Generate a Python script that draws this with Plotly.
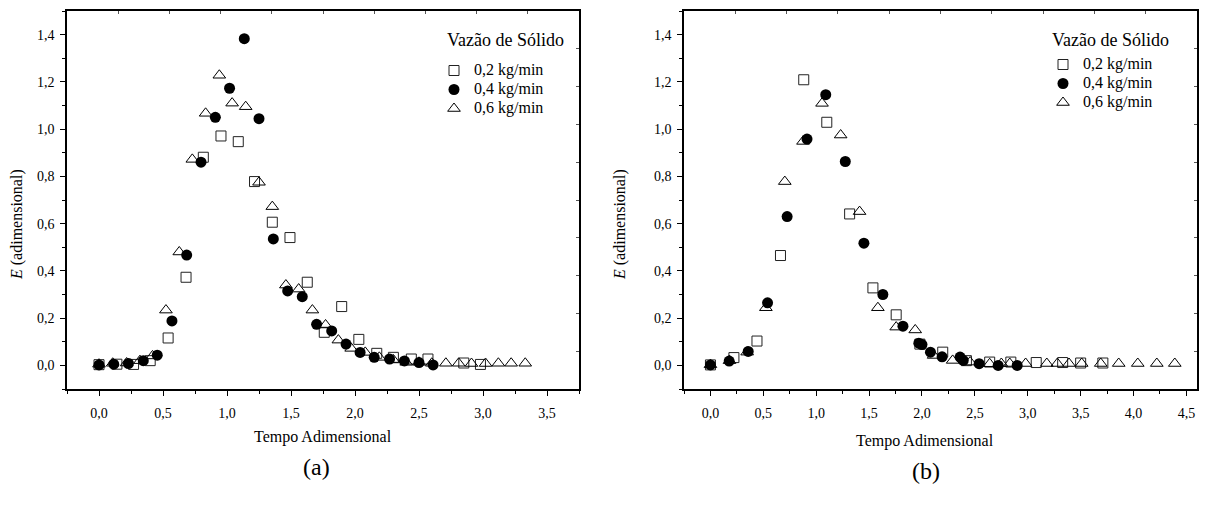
import plotly.graph_objects as go

# ---------------- Data: panel (a) ----------------
a_x_02 = [0.0, 0.14, 0.27, 0.40, 0.54, 0.68, 0.815, 0.953, 1.088, 1.215, 1.354, 1.492, 1.627, 1.76, 1.896, 2.03, 2.17, 2.30, 2.44, 2.57, 2.85, 2.98]
a_y_02 = [0.003, 0.005, 0.004, 0.02, 0.116, 0.373, 0.881, 0.971, 0.947, 0.778, 0.606, 0.541, 0.352, 0.140, 0.249, 0.11, 0.051, 0.034, 0.027, 0.027, 0.01, 0.004]

a_x_04 = [0.0, 0.115, 0.23, 0.346, 0.455, 0.57, 0.685, 0.797, 0.909, 1.02, 1.135, 1.25, 1.362, 1.474, 1.588, 1.70, 1.818, 1.93, 2.04, 2.15, 2.27, 2.386, 2.50, 2.61]
a_y_04 = [0.002, 0.005, 0.008, 0.02, 0.043, 0.188, 0.467, 0.86, 1.05, 1.173, 1.383, 1.044, 0.535, 0.315, 0.291, 0.174, 0.146, 0.09, 0.055, 0.034, 0.027, 0.019, 0.012, 0.002]

a_x_06 = [0.0, 0.107, 0.216, 0.32, 0.418, 0.523, 0.627, 0.729, 0.833, 0.94, 1.04, 1.146, 1.25, 1.354, 1.46, 1.56, 1.667, 1.77, 1.87, 1.97, 2.08, 2.19, 2.30, 2.40, 2.50, 2.60, 2.71, 2.81, 2.91, 3.02, 3.12, 3.22, 3.33]
a_y_06 = [0.005, 0.009, 0.01, 0.02, 0.04, 0.234, 0.48, 0.872, 1.067, 1.228, 1.11, 1.095, 0.775, 0.672, 0.340, 0.323, 0.234, 0.171, 0.107, 0.072, 0.055, 0.034, 0.023, 0.013, 0.013, 0.009, 0.009, 0.009, 0.008, 0.008, 0.009, 0.009, 0.009]

# ---------------- Data: panel (b) ----------------
b_x_02 = [0.0, 0.222, 0.44, 0.662, 0.882, 1.10, 1.316, 1.536, 1.756, 1.98, 2.196, 2.42, 2.64, 2.84, 3.08, 3.33, 3.50, 3.71]
b_y_02 = [0.002, 0.033, 0.103, 0.465, 1.209, 1.029, 0.641, 0.328, 0.214, 0.09, 0.056, 0.02, 0.014, 0.014, 0.012, 0.012, 0.01, 0.01]

b_x_04 = [0.0, 0.177, 0.357, 0.54, 0.725, 0.913, 1.09, 1.275, 1.451, 1.63, 1.82, 1.97, 2.0, 2.08, 2.19, 2.36, 2.39, 2.54, 2.72, 2.90]
b_y_04 = [0.002, 0.018, 0.059, 0.265, 0.63, 0.958, 1.146, 0.863, 0.517, 0.30, 0.166, 0.094, 0.088, 0.056, 0.036, 0.035, 0.021, 0.007, 0.0, 0.0]

b_x_06 = [0.0, 0.18, 0.347, 0.524, 0.703, 0.875, 1.055, 1.231, 1.41, 1.583, 1.756, 1.936, 2.11, 2.29, 2.455, 2.64, 2.75, 2.83, 2.98, 3.18, 3.28, 3.39, 3.51, 3.69, 3.86, 4.04, 4.22, 4.39]
b_y_06 = [0.003, 0.02, 0.056, 0.244, 0.778, 0.948, 1.109, 0.975, 0.651, 0.244, 0.162, 0.15, 0.042, 0.021, 0.014, 0.007, 0.008, 0.008, 0.008, 0.008, 0.008, 0.008, 0.008, 0.008, 0.008, 0.008, 0.008, 0.008]

series_names = ["0,2 kg/min", "0,4 kg/min", "0,6 kg/min"]
legend_title = "Vazão de Sólido"
x_title = "Tempo Adimensional"
y_title = "<i>E</i> (adimensional)"
panel_labels = ["(a)", "(b)"]

FONT = "Liberation Serif, Times New Roman, serif"
W, H = 1214, 506

def px_x(p):
    return p / W

def px_y(p):
    return 1 - p / H

styles = [
    dict(symbol="square-open", size=10, color="#222", line=dict(width=1, color="#222")),
    dict(symbol="circle", size=11, color="black", line=dict(width=0, color="black")),
    dict(symbol="triangle-up-open", size=11, color="black", line=dict(width=1, color="black")),
]

fig = go.Figure()

panels = [
    ("x", "y", "legend", [(a_x_02, a_y_02), (a_x_04, a_y_04), (a_x_06, a_y_06)]),
    ("x2", "y2", "legend2", [(b_x_02, b_y_02), (b_x_04, b_y_04), (b_x_06, b_y_06)]),
]
for xa, ya, lg, data in panels:
    for (xs, ys), name, st in zip(data, series_names, styles):
        fig.add_trace(go.Scatter(x=xs, y=ys, mode="markers",
                                 name=f"<span style='font-size:16px'>{name}</span>",
                                 xaxis=xa, yaxis=ya, legend=lg, marker=st, cliponaxis=False))

# dummy traces for decorative top/right axes
fig.add_trace(go.Scatter(x=[], y=[], xaxis="x3", yaxis="y3", showlegend=False))
fig.add_trace(go.Scatter(x=[], y=[], xaxis="x4", yaxis="y4", showlegend=False))

dom_y = [px_y(389), px_y(11)]
dom_xa = [px_x(67), px_x(579)]
dom_xb = [px_x(684), px_x(1197)]

tickfont = dict(family=FONT, size=14, color="black")

def main_x(dom, rng, anchor):
    return dict(domain=dom, range=rng, anchor=anchor, showline=True, linecolor="black", linewidth=1.6,
                mirror=True, ticks="outside", ticklen=5, tickwidth=1, tickcolor="black",
                dtick=0.5, tick0=0, tickformat=".1f", showgrid=False, zeroline=False,
                ticklabelstandoff=5,
                tickfont=tickfont, minor=dict(dtick=0.25, ticks="outside", ticklen=3, tickcolor="black"))

def main_y(dom, anchor):
    return dict(domain=dom, range=[-0.1, 1.5], anchor=anchor, showline=True, linecolor="black", linewidth=1.6,
                mirror=True, ticks="outside", ticklen=5, tickwidth=1, tickcolor="black",
                dtick=0.2, tick0=0, tickformat=".1f", showgrid=False, zeroline=False,
                ticklabelstandoff=3,
                tickfont=tickfont, minor=dict(dtick=0.1, ticks="outside", ticklen=3, tickcolor="black"))

def deco_x(over, anchor):
    return dict(overlaying=over, side="top", anchor=anchor, range=[0, 10], dtick=1, ticks="inside",
                ticklen=3, tickcolor="#555", showticklabels=False, showgrid=False, zeroline=False, showline=False)

def deco_y(over, anchor):
    return dict(overlaying=over, side="right", anchor=anchor, range=[0, 10], dtick=1, ticks="inside",
                ticklen=3, tickcolor="#555", showticklabels=False, showgrid=False, zeroline=False, showline=False)

legend_common = dict(font=dict(family=FONT, size=12, color="black"), bgcolor="rgba(0,0,0,0)",
                     yanchor="top", xanchor="left", tracegroupgap=0, itemwidth=30)

fig.update_layout(
    width=W, height=H, margin=dict(l=0, r=0, t=0, b=0),
    paper_bgcolor="white", plot_bgcolor="white",
    separators=",.",
    font=dict(family=FONT, color="black"),
    xaxis=main_x(dom_xa, [-0.25, 3.75], "y"),
    yaxis=main_y(dom_y, "x"),
    xaxis2=main_x(dom_xb, [-0.25, 4.6], "y2"),
    yaxis2=main_y(dom_y, "x2"),
    xaxis3=deco_x("x", "y"),
    yaxis3=deco_y("y", "x"),
    xaxis4=deco_x("x2", "y2"),
    yaxis4=deco_y("y2", "x2"),
    legend=dict(x=px_x(434), y=px_y(56), **legend_common),
    legend2=dict(x=px_x(1043), y=px_y(50), **legend_common),
)

ann = []
# legend titles
for cx, cy in [(445, 40), (1050, 40)]:
    ann.append(dict(x=px_x(cx), y=px_y(cy), xref="paper", yref="paper", text=legend_title, showarrow=False,
                    xanchor="left", yanchor="middle",
                    font=dict(family=FONT, size=18, color="black")))
for cx, cy in [(323, 437), (925, 441)]:
    ann.append(dict(x=px_x(cx), y=px_y(cy), xref="paper", yref="paper", text=x_title, showarrow=False,
                    xanchor="center", yanchor="middle",
                    font=dict(family=FONT, size=16, color="black")))
for cx, cy in [(17, 225), (620, 225)]:
    ann.append(dict(x=px_x(cx), y=px_y(cy), xref="paper", yref="paper", text=y_title, showarrow=False,
                    xanchor="center", yanchor="middle",
                    textangle=-90, font=dict(family=FONT, size=16, color="black")))
for lbl, (cx, cy) in zip(panel_labels, [(317, 467), (926, 471)]):
    ann.append(dict(x=px_x(cx), y=px_y(cy), xref="paper", yref="paper", text=lbl, showarrow=False,
                    xanchor="center", yanchor="middle",
                    font=dict(family=FONT, size=24, color="black")))
fig.update_layout(annotations=ann)

fig.write_html("out.html")
